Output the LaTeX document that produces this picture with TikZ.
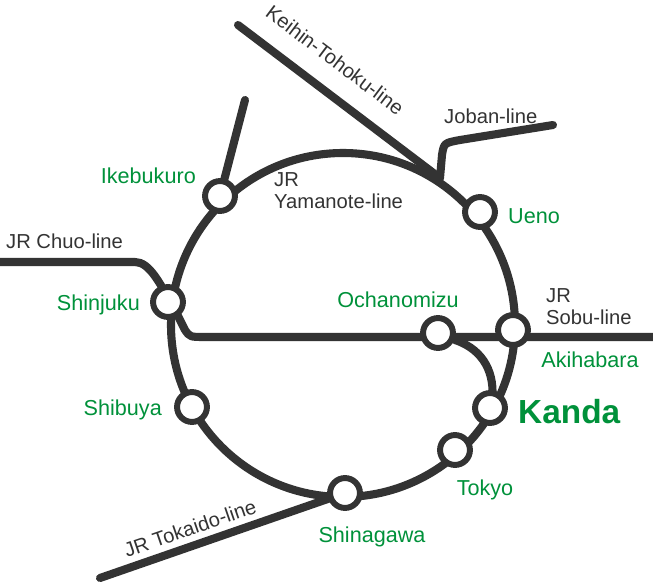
\documentclass[tikz,border=0pt]{standalone}
\usepackage{fontspec}
\setmainfont{Liberation Sans}
\definecolor{railgray}{HTML}{333333}
\definecolor{stgreen}{HTML}{00913A}
\tikzset{
  rail/.style={line width=4.6pt, railgray, line cap=round, line join=round},
  station/.style={circle, draw=railgray, line width=3.4pt, fill=white, minimum size=17pt, inner sep=0pt},
  stname/.style={text=stgreen, font=\fontsize{12.3}{14}\selectfont},
  linename/.style={text=railgray, font=\fontsize{11.5}{13}\selectfont, align=left}
}
\begin{document}
\begin{tikzpicture}[x=0.02cm,y=-0.02cm]
\useasboundingbox (0,0) rectangle (653,584);
% the loop
\draw[rail] (343,325) circle (172);
% lines
\draw[rail, line cap=butt] (0,262) -- (135,262) .. controls (150,262) and (160,285) .. (170,300)
  -- (185,330) .. controls (190,337) .. (205,337) -- (653,337);
\draw[rail] (455,340) .. controls (485,350) and (495,375) .. (492,400);
\draw[rail] (238,25) -- (440,178);
\draw[rail] (440,178) -- (442,155) .. controls (444,143) .. (460,140) -- (553,125);
\draw[rail] (245,100) -- (220,196);
\draw[rail] (100,578) -- (345,493);
% stations
\node[station] (ikebukuro) at (220,196) {};
\node[station] (shinjuku) at (168,302) {};
\node[station] (shibuya) at (192,407) {};
\node[station] (shinagawa) at (345,493) {};
\node[station] (tokyo) at (455,450) {};
\node[station] (kanda) at (490,408) {};
\node[station] (akihabara) at (513,330) {};
\node[station] (ochanomizu) at (438,333) {};
\node[station] (ueno) at (480,212) {};
% station names
\node[stname, anchor=east] at (202,176) {Ikebukuro};
\node[stname, anchor=east] at (146,305) {Shinjuku};
\node[stname, anchor=east] at (168,410) {Shibuya};
\node[stname] at (372,537) {Shinagawa};
\node[stname] at (485,490) {Tokyo};
\node[stname, anchor=west, font=\fontsize{19}{22}\bfseries] at (512,412) {Kanda};
\node[stname] at (590,360) {Akihabara};
\node[stname] at (398,300) {Ochanomizu};
\node[stname, anchor=west] at (502,216) {Ueno};
% line names
\node[linename, anchor=north west] at (268,166) {JR\\Yamanote-line};
\node[linename, anchor=west] at (0,241) {JR Chuo-line};
\node[linename, anchor=north west] at (540,282) {JR\\Sobu-line};
\node[linename, anchor=west] at (438,116) {Joban-line};
\node[linename, rotate=-37] at (335,60) {Keihin-Tohoku-line};
\node[linename, rotate=19] at (190,528) {JR Tokaido-line};
\end{tikzpicture}
\end{document}
